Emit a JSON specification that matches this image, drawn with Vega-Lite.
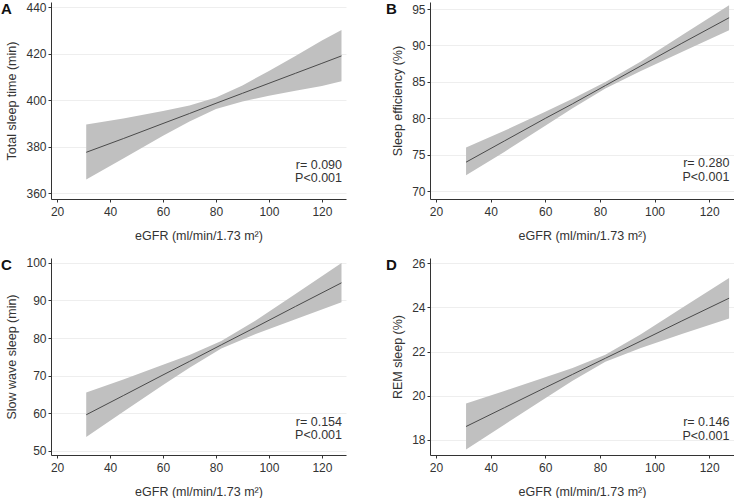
{
  "$schema": "https://vega.github.io/schema/vega-lite/v6.json",
  "padding": {"left": 0, "top": 1, "right": 0, "bottom": 0},
  "background": "white",
  "datasets": {
    "fits": [
      {"panel": "A", "egfr": 31, "fit": 377.6, "lo": 365.9, "hi": 389.6},
      {"panel": "A", "egfr": 45, "fit": 383.5, "lo": 374.9, "hi": 392.2},
      {"panel": "A", "egfr": 60, "fit": 390.0, "lo": 384.7, "hi": 395.4},
      {"panel": "A", "egfr": 70, "fit": 394.3, "lo": 390.9, "hi": 397.8},
      {"panel": "A", "egfr": 80, "fit": 398.7, "lo": 396.2, "hi": 401.2},
      {"panel": "A", "egfr": 90, "fit": 403.0, "lo": 399.5, "hi": 406.4},
      {"panel": "A", "egfr": 100, "fit": 407.3, "lo": 401.9, "hi": 412.6},
      {"panel": "A", "egfr": 110, "fit": 411.6, "lo": 404.1, "hi": 419.1},
      {"panel": "A", "egfr": 120, "fit": 415.9, "lo": 406.1, "hi": 425.7},
      {"panel": "A", "egfr": 127.4, "fit": 419.1, "lo": 408.2, "hi": 430.2},
      {"panel": "B", "egfr": 31, "fit": 74.0, "lo": 72.2, "hi": 76.0},
      {"panel": "B", "egfr": 45, "fit": 76.9, "lo": 75.4, "hi": 78.3},
      {"panel": "B", "egfr": 60, "fit": 80.0, "lo": 79.0, "hi": 80.9},
      {"panel": "B", "egfr": 70, "fit": 82.0, "lo": 81.4, "hi": 82.7},
      {"panel": "B", "egfr": 82, "fit": 84.5, "lo": 84.1, "hi": 85.0},
      {"panel": "B", "egfr": 95, "fit": 87.2, "lo": 86.5, "hi": 87.8},
      {"panel": "B", "egfr": 110, "fit": 90.3, "lo": 89.1, "hi": 91.4},
      {"panel": "B", "egfr": 127.3, "fit": 93.8, "lo": 92.1, "hi": 95.5},
      {"panel": "C", "egfr": 31, "fit": 59.6, "lo": 53.7, "hi": 65.5},
      {"panel": "C", "egfr": 45, "fit": 64.7, "lo": 60.4, "hi": 69.0},
      {"panel": "C", "egfr": 60, "fit": 70.2, "lo": 67.5, "hi": 72.9},
      {"panel": "C", "egfr": 70, "fit": 73.8, "lo": 72.1, "hi": 75.5},
      {"panel": "C", "egfr": 82, "fit": 78.2, "lo": 77.2, "hi": 79.2},
      {"panel": "C", "egfr": 95, "fit": 82.9, "lo": 81.1, "hi": 84.7},
      {"panel": "C", "egfr": 110, "fit": 88.4, "lo": 85.0, "hi": 91.7},
      {"panel": "C", "egfr": 127.4, "fit": 94.7, "lo": 89.5, "hi": 100.0},
      {"panel": "D", "egfr": 31, "fit": 18.61, "lo": 17.57, "hi": 19.65},
      {"panel": "D", "egfr": 45, "fit": 19.46, "lo": 18.69, "hi": 20.22},
      {"panel": "D", "egfr": 60, "fit": 20.37, "lo": 19.89, "hi": 20.84},
      {"panel": "D", "egfr": 70, "fit": 20.97, "lo": 20.68, "hi": 21.26},
      {"panel": "D", "egfr": 82, "fit": 21.70, "lo": 21.54, "hi": 21.86},
      {"panel": "D", "egfr": 95, "fit": 22.48, "lo": 22.17, "hi": 22.79},
      {"panel": "D", "egfr": 110, "fit": 23.39, "lo": 22.80, "hi": 23.98},
      {"panel": "D", "egfr": 127.3, "fit": 24.42, "lo": 23.50, "hi": 25.34}
    ],
    "notes": [
      {"panel": "A", "letter": "A", "stats": ["r= 0.090", "P<0.001"]},
      {"panel": "B", "letter": "B", "stats": ["r= 0.280", "P<0.001"]},
      {"panel": "C", "letter": "C", "stats": ["r= 0.154", "P<0.001"]},
      {"panel": "D", "letter": "D", "stats": ["r= 0.146", "P<0.001"]}
    ]
  },
  "vconcat": [
    {
      "hconcat": [
        {
          "width": 295, "height": 197,
          "layer": [
            {"data": {"name": "fits"}, "transform": [{"filter": "datum.panel === 'A'"}],
             "mark": {"type": "area", "color": "#c0c0c0", "opacity": 1},
             "encoding": {
               "x": {"field": "egfr", "type": "quantitative", "title": "eGFR (ml/min/1.73 m²)", "scale": {"domain": [17.7, 129.1], "nice": false, "zero": false}, "axis": {"values": [20, 40, 60, 80, 100, 120], "grid": false, "labelOverlap": false}},
               "y": {"field": "lo", "type": "quantitative", "title": "Total sleep time (min)", "scale": {"domain": [357.5, 442.3], "nice": false, "zero": false}, "axis": {"values": [360, 380, 400, 420, 440], "labelOverlap": false}},
               "y2": {"field": "hi"}
             }},
            {"data": {"name": "fits"}, "transform": [{"filter": "datum.panel === 'A'"}],
             "mark": {"type": "line", "color": "#4a4a4a", "strokeWidth": 1},
             "encoding": {
               "x": {"field": "egfr", "type": "quantitative", "title": "eGFR (ml/min/1.73 m²)", "axis": {"values": [20, 40, 60, 80, 100, 120], "grid": false, "labelOverlap": false}},
               "y": {"field": "fit", "type": "quantitative", "title": "Total sleep time (min)", "axis": {"values": [360, 380, 400, 420, 440], "labelOverlap": false}}}},
            {"data": {"name": "notes"}, "transform": [{"filter": "datum.panel === 'A'"}],
             "mark": {"type": "text", "align": "right", "baseline": "alphabetic", "fontSize": 12.5, "lineHeight": 13.7, "color": "#333", "fontWeight": "normal"},
             "encoding": {
               "x": {"datum": 127.6, "type": "quantitative", "title": "eGFR (ml/min/1.73 m²)", "axis": {"values": [20, 40, 60, 80, 100, 120], "grid": false, "labelOverlap": false}},
               "y": {"datum": 370.5, "type": "quantitative", "title": "Total sleep time (min)", "axis": {"values": [360, 380, 400, 420, 440], "labelOverlap": false}},
               "text": {"field": "stats"}}},
            {"data": {"name": "notes"}, "transform": [{"filter": "datum.panel === 'A'"}],
             "mark": {"type": "text", "align": "left", "baseline": "alphabetic", "fontSize": 15, "fontWeight": "bold", "color": "#111"},
             "encoding": {
               "x": {"datum": -1.2, "type": "quantitative", "title": "eGFR (ml/min/1.73 m²)", "axis": {"values": [20, 40, 60, 80, 100, 120], "grid": false, "labelOverlap": false}},
               "y": {"datum": 437.0, "type": "quantitative", "title": "Total sleep time (min)", "axis": {"values": [360, 380, 400, 420, 440], "labelOverlap": false}},
               "text": {"field": "letter"}}}
          ]
        },
        {
          "width": 304, "height": 197,
          "layer": [
            {"data": {"name": "fits"}, "transform": [{"filter": "datum.panel === 'B'"}],
             "mark": {"type": "area", "color": "#c0c0c0", "opacity": 1},
             "encoding": {
               "x": {"field": "egfr", "type": "quantitative", "title": "eGFR (ml/min/1.73 m²)", "scale": {"domain": [17.8, 129.1], "nice": false, "zero": false}, "axis": {"values": [20, 40, 60, 80, 100, 120], "grid": false, "labelOverlap": false}},
               "y": {"field": "lo", "type": "quantitative", "title": "Sleep efficiency (%)", "scale": {"domain": [68.95, 95.96], "nice": false, "zero": false}, "axis": {"values": [70, 75, 80, 85, 90, 95], "labelOverlap": false}},
               "y2": {"field": "hi"}
             }},
            {"data": {"name": "fits"}, "transform": [{"filter": "datum.panel === 'B'"}],
             "mark": {"type": "line", "color": "#4a4a4a", "strokeWidth": 1},
             "encoding": {
               "x": {"field": "egfr", "type": "quantitative", "title": "eGFR (ml/min/1.73 m²)", "axis": {"values": [20, 40, 60, 80, 100, 120], "grid": false, "labelOverlap": false}},
               "y": {"field": "fit", "type": "quantitative", "title": "Sleep efficiency (%)", "axis": {"values": [70, 75, 80, 85, 90, 95], "labelOverlap": false}}}},
            {"data": {"name": "notes"}, "transform": [{"filter": "datum.panel === 'B'"}],
             "mark": {"type": "text", "align": "right", "baseline": "alphabetic", "fontSize": 12.5, "lineHeight": 13.7, "color": "#333", "fontWeight": "normal"},
             "encoding": {
               "x": {"datum": 127.4, "type": "quantitative", "title": "eGFR (ml/min/1.73 m²)", "axis": {"values": [20, 40, 60, 80, 100, 120], "grid": false, "labelOverlap": false}},
               "y": {"datum": 73.3, "type": "quantitative", "title": "Sleep efficiency (%)", "axis": {"values": [70, 75, 80, 85, 90, 95], "labelOverlap": false}},
               "text": {"field": "stats"}}},
            {"data": {"name": "notes"}, "transform": [{"filter": "datum.panel === 'B'"}],
             "mark": {"type": "text", "align": "left", "baseline": "alphabetic", "fontSize": 15, "fontWeight": "bold", "color": "#111"},
             "encoding": {
               "x": {"datum": 1.7, "type": "quantitative", "title": "eGFR (ml/min/1.73 m²)", "axis": {"values": [20, 40, 60, 80, 100, 120], "grid": false, "labelOverlap": false}},
               "y": {"datum": 94.3, "type": "quantitative", "title": "Sleep efficiency (%)", "axis": {"values": [70, 75, 80, 85, 90, 95], "labelOverlap": false}},
               "text": {"field": "letter"}}}
          ]
        }
      ],
      "spacing": 40
    },
    {
      "hconcat": [
        {
          "width": 295, "height": 197,
          "layer": [
            {"data": {"name": "fits"}, "transform": [{"filter": "datum.panel === 'C'"}],
             "mark": {"type": "area", "color": "#c0c0c0", "opacity": 1},
             "encoding": {
               "x": {"field": "egfr", "type": "quantitative", "title": "eGFR (ml/min/1.73 m²)", "scale": {"domain": [17.7, 129.1], "nice": false, "zero": false}, "axis": {"values": [20, 40, 60, 80, 100, 120], "grid": false, "labelOverlap": false}},
               "y": {"field": "lo", "type": "quantitative", "title": "Slow wave sleep (min)", "scale": {"domain": [48.9, 101.3], "nice": false, "zero": false}, "axis": {"values": [50, 60, 70, 80, 90, 100], "labelOverlap": false}},
               "y2": {"field": "hi"}
             }},
            {"data": {"name": "fits"}, "transform": [{"filter": "datum.panel === 'C'"}],
             "mark": {"type": "line", "color": "#4a4a4a", "strokeWidth": 1},
             "encoding": {
               "x": {"field": "egfr", "type": "quantitative", "title": "eGFR (ml/min/1.73 m²)", "axis": {"values": [20, 40, 60, 80, 100, 120], "grid": false, "labelOverlap": false}},
               "y": {"field": "fit", "type": "quantitative", "title": "Slow wave sleep (min)", "axis": {"values": [50, 60, 70, 80, 90, 100], "labelOverlap": false}}}},
            {"data": {"name": "notes"}, "transform": [{"filter": "datum.panel === 'C'"}],
             "mark": {"type": "text", "align": "right", "baseline": "alphabetic", "fontSize": 12.5, "lineHeight": 13.7, "color": "#333", "fontWeight": "normal"},
             "encoding": {
               "x": {"datum": 127.6, "type": "quantitative", "title": "eGFR (ml/min/1.73 m²)", "axis": {"values": [20, 40, 60, 80, 100, 120], "grid": false, "labelOverlap": false}},
               "y": {"datum": 56.7, "type": "quantitative", "title": "Slow wave sleep (min)", "axis": {"values": [50, 60, 70, 80, 90, 100], "labelOverlap": false}},
               "text": {"field": "stats"}}},
            {"data": {"name": "notes"}, "transform": [{"filter": "datum.panel === 'C'"}],
             "mark": {"type": "text", "align": "left", "baseline": "alphabetic", "fontSize": 15, "fontWeight": "bold", "color": "#111"},
             "encoding": {
               "x": {"datum": -1.2, "type": "quantitative", "title": "eGFR (ml/min/1.73 m²)", "axis": {"values": [20, 40, 60, 80, 100, 120], "grid": false, "labelOverlap": false}},
               "y": {"datum": 98.0, "type": "quantitative", "title": "Slow wave sleep (min)", "axis": {"values": [50, 60, 70, 80, 90, 100], "labelOverlap": false}},
               "text": {"field": "letter"}}}
          ]
        },
        {
          "width": 304, "height": 197,
          "layer": [
            {"data": {"name": "fits"}, "transform": [{"filter": "datum.panel === 'D'"}],
             "mark": {"type": "area", "color": "#c0c0c0", "opacity": 1},
             "encoding": {
               "x": {"field": "egfr", "type": "quantitative", "title": "eGFR (ml/min/1.73 m²)", "scale": {"domain": [17.8, 129.1], "nice": false, "zero": false}, "axis": {"values": [20, 40, 60, 80, 100, 120], "grid": false, "labelOverlap": false}},
               "y": {"field": "lo", "type": "quantitative", "title": "REM sleep (%)", "scale": {"domain": [17.32, 26.24], "nice": false, "zero": false}, "axis": {"values": [18, 20, 22, 24, 26], "labelOverlap": false}},
               "y2": {"field": "hi"}
             }},
            {"data": {"name": "fits"}, "transform": [{"filter": "datum.panel === 'D'"}],
             "mark": {"type": "line", "color": "#4a4a4a", "strokeWidth": 1},
             "encoding": {
               "x": {"field": "egfr", "type": "quantitative", "title": "eGFR (ml/min/1.73 m²)", "axis": {"values": [20, 40, 60, 80, 100, 120], "grid": false, "labelOverlap": false}},
               "y": {"field": "fit", "type": "quantitative", "title": "REM sleep (%)", "axis": {"values": [18, 20, 22, 24, 26], "labelOverlap": false}}}},
            {"data": {"name": "notes"}, "transform": [{"filter": "datum.panel === 'D'"}],
             "mark": {"type": "text", "align": "right", "baseline": "alphabetic", "fontSize": 12.5, "lineHeight": 13.7, "color": "#333", "fontWeight": "normal"},
             "encoding": {
               "x": {"datum": 127.4, "type": "quantitative", "title": "eGFR (ml/min/1.73 m²)", "axis": {"values": [20, 40, 60, 80, 100, 120], "grid": false, "labelOverlap": false}},
               "y": {"datum": 18.64, "type": "quantitative", "title": "REM sleep (%)", "axis": {"values": [18, 20, 22, 24, 26], "labelOverlap": false}},
               "text": {"field": "stats"}}},
            {"data": {"name": "notes"}, "transform": [{"filter": "datum.panel === 'D'"}],
             "mark": {"type": "text", "align": "left", "baseline": "alphabetic", "fontSize": 15, "fontWeight": "bold", "color": "#111"},
             "encoding": {
               "x": {"datum": 1.7, "type": "quantitative", "title": "eGFR (ml/min/1.73 m²)", "axis": {"values": [20, 40, 60, 80, 100, 120], "grid": false, "labelOverlap": false}},
               "y": {"datum": 25.7, "type": "quantitative", "title": "REM sleep (%)", "axis": {"values": [18, 20, 22, 24, 26], "labelOverlap": false}},
               "text": {"field": "letter"}}}
          ]
        }
      ],
      "spacing": 40
    }
  ],
  "spacing": 14,
  "config": {
    "font": "Liberation Sans",
    "view": {"stroke": null},
    "axis": {
      "domainColor": "#333",
      "tickColor": "#333",
      "tickSize": 3,
      "labelFontSize": 12,
      "labelColor": "#333",
      "labelPadding": 4,
      "labelOverlap": false,
      "labelFlush": false,
      "titleFontSize": 12.5,
      "titleFontWeight": "normal",
      "titleColor": "#333",
      "gridColor": "#eeeeee",
      "gridWidth": 1
    },
    "axisX": {"titlePadding": 12, "labelPadding": 4},
    "axisY": {"titlePadding": 7, "labelPadding": 2}
  }
}
